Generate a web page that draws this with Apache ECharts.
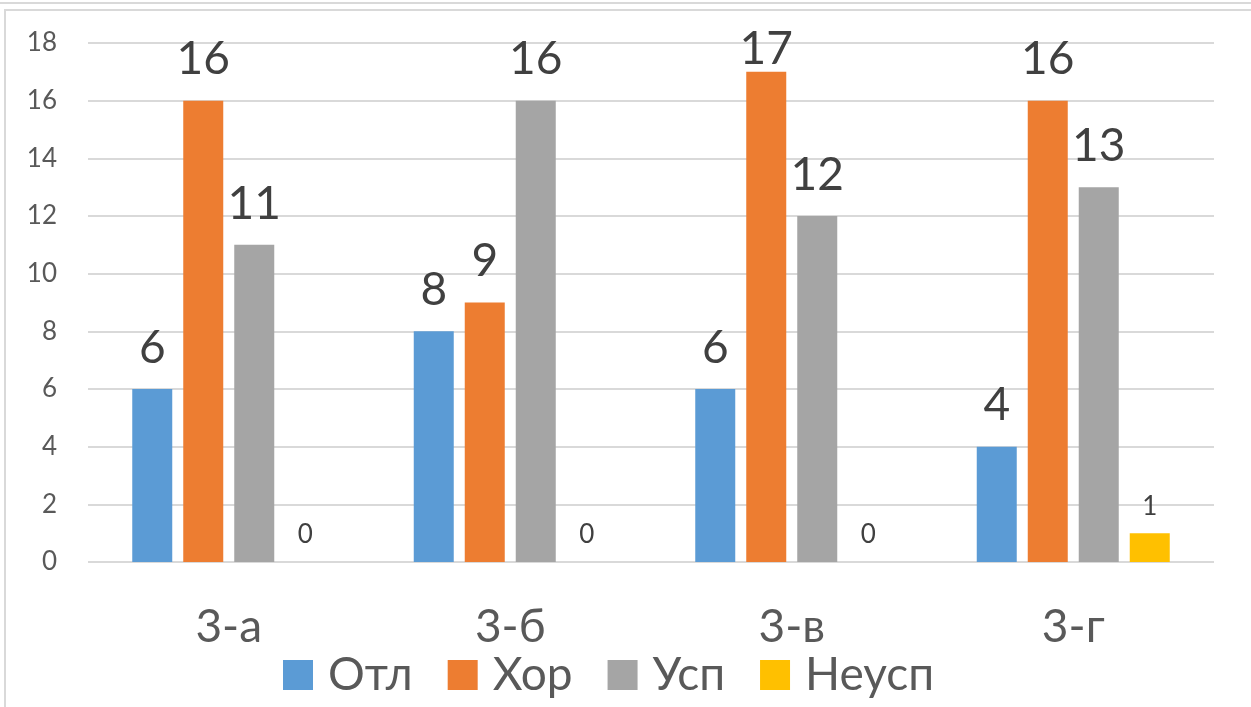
<!DOCTYPE html>
<html>
<head>
<meta charset="utf-8">
<script src="https://cdn.jsdelivr.net/npm/echarts@6/dist/echarts.min.js"></script>
<style>
  html, body { margin: 0; padding: 0; background: #fff; overflow: hidden; }
  #topLine { position: absolute; left: 0; top: 2px; width: 1251px; height: 0; border-top: 2px solid #d9d9d9; }
  #frame { position: absolute; left: 4px; top: 9px; width: 1260px; height: 710px; border: 2px solid #d9d9d9; }
  #chart { position: absolute; left: 0; top: 0; width: 1251px; height: 707px; }
</style>
</head>
<body>
<div id="topLine"></div>
<div id="frame"></div>
<div id="chart"></div>
<script>
// данные по классам
const categories = ['3-а', '3-б', '3-в', '3-г']
const seriesNames = ['Отл', 'Хор', 'Усп', 'Неусп']
const otl = [6, 8, 6, 4]
const hor = [16, 9, 17, 16]
const usp = [11, 16, 12, 13]
const neusp = [0, 0, 0, 1]
const yTicks = [0, 2, 4, 6, 8, 10, 12, 14, 16, 18]

const colors = ['#5B9BD5', '#ED7D31', '#A5A5A5', '#FFC000']
const fontFamily = 'Lato, "Open Sans", sans-serif'

const chart = echarts.init(document.getElementById('chart'))

// подписи: крупные для первых трёх рядов, мелкие для «Неусп»
const bigLabel = {
  show: true,
  position: 'top',
  distance: 18,
  fontFamily: fontFamily,
  fontSize: 46,
  color: '#404040',
}
const smallLabel = {
  show: true,
  position: 'top',
  distance: 14,
  fontFamily: fontFamily,
  fontSize: 26,
  color: '#404040',
}

// подпись не выше верхнего края (как в Excel)
const clampTop = (params) => {
  const minTop = 26
  if (params.labelRect.y < minTop) {
    return { dy: minTop - params.labelRect.y }
  }
  return {}
}

const makeSeries = (name, data, color, label) => ({
  name: name,
  type: 'bar',
  data: data,
  barWidth: 40,
  barGap: '27.5%',
  itemStyle: { color: color },
  label: label,
  labelLayout: clampTop,
})

const option = {
  animation: false,
  textStyle: { fontFamily: fontFamily },
  grid: {
    left: 88,
    right: 37,
    top: 43,
    bottom: 145,
  },
  legend: {
    left: 278,
    top: 647,
    itemWidth: 30,
    itemHeight: 30,
    itemGap: 35,
    icon: 'rect',
    data: seriesNames,
    textStyle: {
      fontFamily: fontFamily,
      fontSize: 46,
      color: '#595959',
      padding: [0, 0, 0, 10],
    },
  },
  xAxis: {
    type: 'category',
    data: categories,
    axisLine: { show: false },
    axisTick: { show: false },
    axisLabel: {
      margin: 42,
      fontFamily: fontFamily,
      fontSize: 46,
      color: '#595959',
    },
  },
  yAxis: {
    type: 'value',
    min: yTicks[0],
    max: yTicks[yTicks.length - 1],
    interval: 2,
    axisLine: { show: false },
    axisTick: { show: false },
    axisLabel: {
      margin: 31,
      fontFamily: fontFamily,
      fontSize: 26,
      color: '#595959',
    },
    splitLine: { lineStyle: { color: '#d9d9d9', width: 2 } },
  },
  series: [
    makeSeries(seriesNames[0], otl, colors[0], bigLabel),
    makeSeries(seriesNames[1], hor, colors[1], bigLabel),
    makeSeries(seriesNames[2], usp, colors[2], bigLabel),
    makeSeries(seriesNames[3], neusp, colors[3], smallLabel),
  ],
}

chart.setOption(option)
</script>
</body>
</html>
